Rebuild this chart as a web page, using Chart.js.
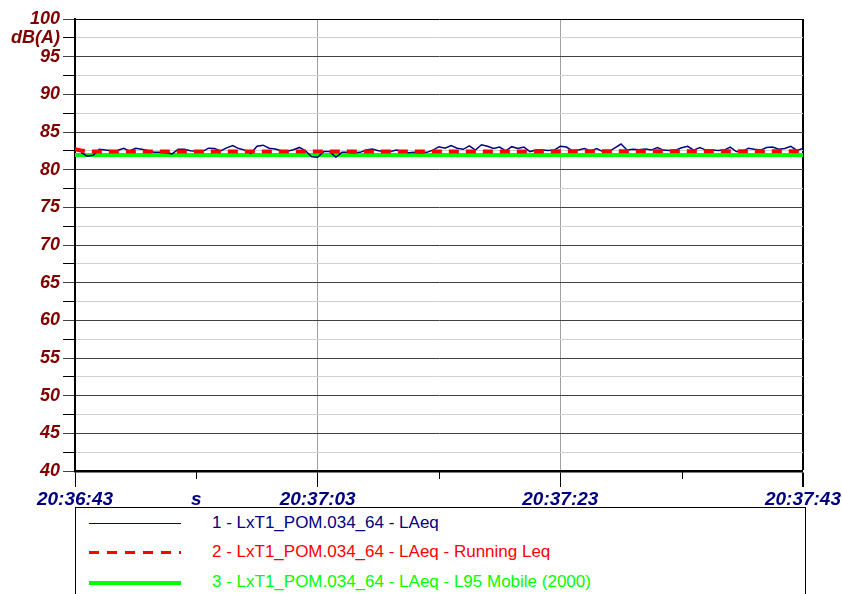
<!DOCTYPE html>
<html>
<head>
<meta charset="utf-8">
<script src="https://cdn.jsdelivr.net/npm/chart.js@4.4.1/dist/chart.umd.min.js"></script>
<style>
  body { margin: 0; background: #fff; }
  #wrap { position: relative; width: 842px; height: 594px; overflow: hidden; }
  #legend {
    position: absolute; left: 75px; top: 507px; width: 729px; height: 110px;
    border: 1.5px solid #000; font-family: "Liberation Sans", Arial, sans-serif; font-size: 17px;
  }
  .row { position: absolute; left: 0; height: 20px; width: 100%; }
  .sample { position: absolute; left: 13px; width: 92px; }
  .txt { position: absolute; left: 136px; top: 0; line-height: 20px; white-space: nowrap; }
</style>
</head>
<body>
<div id="wrap">
  <canvas id="chart" width="842" height="505"></canvas>
  <div id="legend"></div>
</div>
<script>
// seconds from 20:36:43
const times = [0, 0.5, 1, 1.5, 2, 2.5, 3, 3.5, 4, 4.5, 5, 5.5, 6, 6.5, 7, 7.5, 8, 8.5, 9, 9.5,
  10, 10.5, 11, 11.5, 12, 12.5, 13, 13.5, 14, 14.5, 15, 15.5, 16, 16.5, 17, 17.5, 18, 18.5, 19, 19.5,
  20, 20.5, 21, 21.5, 22, 22.5, 23, 23.5, 24, 24.5, 25, 25.5, 26, 26.5, 27, 27.5, 28, 28.5, 29, 29.5,
  30, 30.5, 31, 31.5, 32, 32.5, 33, 33.5, 34, 34.5, 35, 35.5, 36, 36.5, 37, 37.5, 38, 38.5, 39, 39.5,
  40, 40.5, 41, 41.5, 42, 42.5, 43, 43.5, 44, 44.5, 45, 45.5, 46, 46.5, 47, 47.5, 48, 48.5, 49, 49.5,
  50, 50.5, 51, 51.5, 52, 52.5, 53, 53.5, 54, 54.5, 55, 55.5, 56, 56.5, 57, 57.5, 58, 58.5, 59, 59.5, 60];

const laeq = [null, 82.3, 81.8, 81.9, 82.7, 82.6, 82.5, 82.55, 82.85, 82.5, 82.85, 82.7, 82.55, 82.3, 82.3, 82.25, 82.1, 82.7, 82.7, 82.5,
  82.45, 82.4, 82.85, 82.8, 82.5, 82.9, 83.2, 82.8, 82.6, 82.15, 83.1, 83.25, 82.85, 82.75, 82.5, 82.45, 82.65, 82.95, 82.5, 81.7,
  81.65, 82.4, 82.4, 81.65, 82.3, 82.3, 82.25, 82.3, 82.6, 82.75, 82.5, 82.4, 82.4, 82.6, 82.4, 82.25, 82.3, 82.25, 82.3, 82.6,
  83.05, 82.85, 83.2, 82.85, 82.7, 83.15, 82.6, 83.3, 83.1, 82.8, 83.0, 82.5, 83.05, 82.8, 83.0, 82.4, 82.6, 82.6, 82.55, 82.6,
  83.1, 83.0, 82.5, 82.6, 82.8, 82.5, 82.8, 82.4, 82.4, 82.9, 83.4, 82.6, 82.7, 82.65, 82.75, 82.6, 82.95, 82.6, 82.55, 82.6,
  82.9, 83.1, 82.6, 82.95, 82.6, 82.6, 82.55, 82.6, 83.0, 82.4, 82.4, 82.85, 82.7, 82.6, 82.95, 83.0, 82.7, 82.8, 83.1, 82.55, 82.8];

const runningLeq = [82.7, 82.55, 82.45, 82.4, 82.4, 82.4, 82.4, 82.4, 82.4, 82.4, 82.4, 82.4, 82.4, 82.4, 82.4, 82.4, 82.4, 82.4, 82.4, 82.4,
  82.4, 82.4, 82.4, 82.4, 82.4, 82.4, 82.4, 82.4, 82.4, 82.4, 82.4, 82.4, 82.4, 82.4, 82.4, 82.4, 82.4, 82.4, 82.4, 82.4,
  82.4, 82.4, 82.4, 82.4, 82.4, 82.4, 82.4, 82.4, 82.4, 82.4, 82.4, 82.4, 82.4, 82.4, 82.4, 82.4, 82.4, 82.4, 82.4, 82.4,
  82.4, 82.4, 82.4, 82.4, 82.4, 82.4, 82.4, 82.4, 82.4, 82.4, 82.4, 82.4, 82.4, 82.4, 82.4, 82.4, 82.4, 82.4, 82.4, 82.4,
  82.45, 82.45, 82.45, 82.45, 82.45, 82.45, 82.45, 82.45, 82.45, 82.45, 82.45, 82.45, 82.45, 82.45, 82.45, 82.45, 82.45, 82.45, 82.45, 82.45,
  82.45, 82.45, 82.45, 82.45, 82.45, 82.45, 82.45, 82.45, 82.45, 82.45, 82.45, 82.45, 82.45, 82.45, 82.45, 82.45, 82.45, 82.45, 82.45, 82.45, 82.45];

const l95 = [81.95, 81.95, 81.95, 81.95, 81.95, 81.95, 81.95, 81.95, 81.95, 81.95, 81.95, 81.95, 81.95, 81.95, 81.95, 81.95, 81.95, 81.95, 81.95, 81.95,
  81.95, 81.95, 81.95, 81.95, 81.95, 81.95, 81.95, 81.95, 81.95, 81.95, 81.95, 81.95, 81.95, 81.95, 81.95, 81.95, 81.95, 81.95, 81.95, 81.95,
  81.95, 81.95, 81.95, 81.95, 81.95, 81.95, 81.95, 81.95, 81.95, 81.95, 81.95, 81.95, 81.95, 81.95, 81.95, 81.95, 81.95, 81.95, 81.95, 81.95,
  81.95, 81.95, 81.95, 81.95, 81.95, 81.95, 81.95, 81.95, 81.95, 81.95, 81.95, 81.95, 81.95, 81.95, 81.95, 81.95, 81.95, 81.95, 81.95, 81.95,
  81.95, 81.95, 81.95, 81.95, 81.95, 81.95, 81.95, 81.95, 81.95, 81.95, 81.95, 81.95, 81.95, 81.95, 81.95, 81.95, 81.95, 81.95, 81.95, 81.95,
  81.95, 81.95, 81.95, 81.95, 81.95, 81.95, 81.95, 81.95, 81.95, 81.95, 81.95, 81.95, 81.95, 81.95, 81.95, 81.95, 81.95, 81.95, 81.95, 81.95, 81.95];

const xTickLabels = { 0: "20:36:43", 10: "s", 20: "20:37:03", 40: "20:37:23", 60: "20:37:43" };
const seriesNames = [
  "1 - LxT1_POM.034_64 - LAeq",
  "2 - LxT1_POM.034_64 - LAeq - Running Leq",
  "3 - LxT1_POM.034_64 - LAeq - L95 Mobile (2000)"
];

function pts(ys) {
  return times.map((t, i) => ({ x: t, y: ys[i] }));
}

// short tick marks for the unlabelled 10 s steps
const minorTicks = {
  id: "minorTicks",
  afterDraw(chart) {
    const x = chart.scales.x, c = chart.ctx;
    c.save();
    c.strokeStyle = "#000";
    c.lineWidth = 1;
    [10, 30, 50].forEach(v => {
      const px = Math.round(x.getPixelForValue(v)) + 0.5;
      c.beginPath();
      c.moveTo(px, x.top);
      c.lineTo(px, x.top + 8);
      c.stroke();
    });
    c.restore();
  }
};

const ctx = document.getElementById("chart").getContext("2d");
const chart = new Chart(ctx, {
  type: "line",
  data: {
    datasets: [
      {
        label: seriesNames[1],
        data: pts(runningLeq),
        borderColor: "#ff0000",
        borderWidth: 4,
        borderDash: [10, 7],
        order: 0,
      },
      {
        label: seriesNames[0],
        data: pts(laeq),
        borderColor: "#000080",
        borderWidth: 1.5,
        order: 1,
      },
      {
        label: seriesNames[2],
        data: pts(l95),
        borderColor: "#00ff00",
        borderWidth: 4,
        order: 2,
      },
    ],
  },
  options: {
    responsive: false,
    animation: false,
    layout: {
      autoPadding: false,
      padding: { top: 19, right: 34, left: 0, bottom: 0 },
    },
    plugins: {
      legend: { display: false },
      tooltip: { enabled: false },
    },
    elements: {
      point: { radius: 0 },
      line: { tension: 0 },
    },
    scales: {
      x: {
        type: "linear",
        min: 0,
        max: 60,
        afterFit: s => { s.height = 34; },
        ticks: {
          stepSize: 10,
          autoSkip: false,
          maxRotation: 0,
          padding: 1,
          color: "#000080",
          font: { family: "Liberation Sans", size: 19, weight: "bold", style: "italic" },
          callback: v => xTickLabels[v] || "",
        },
        grid: {
          color: c => {
            const v = c.tick && c.tick.value;
            if (v === 0 || v === 60) return "#000";
            if (v === 20 || v === 40) return "#a0a0a0";
            return "rgba(0,0,0,0)";
          },
          lineWidth: c => (c.tick && c.tick.value === 60 ? 2 : 1),
          tickColor: c => (c.tick && c.tick.value % 20 === 0 ? "#000" : "rgba(0,0,0,0)"),
          tickLength: 16,
        },
        border: { color: "#000", width: 2.5 },
      },
      y: {
        min: 40,
        max: 100,
        afterFit: s => { s.width = 75; },
        ticks: {
          stepSize: 2.5,
          autoSkip: false,
          padding: 3,
          color: "#800000",
          font: { family: "Liberation Sans", size: 18, weight: "bold", style: "italic" },
          callback: v => (v === 97.5 ? "dB(A)" : (v % 5 === 0 ? v : "")),
        },
        grid: {
          color: c => {
            const v = c.tick && c.tick.value;
            if (v === 100 || v === 40) return "#000";
            return v % 5 === 0 ? "#404040" : "#d0d0d0";
          },
          tickColor: c => (c.tick && c.tick.value % 5 === 0 ? "#404040" : "#000"),
          tickLength: 12,
        },
        border: { color: "#000", width: 2 },
      },
    },
  },
  plugins: [minorTicks],
});

// legend box under the plot
const legendStyles = [
  { top: 5, css: "top:10px;height:0;border-top:1.5px solid #000080;", color: "#000080" },
  { top: 34, css: "top:9px;height:3px;background:repeating-linear-gradient(90deg,#ff0000 0 10px,transparent 10px 18px);", color: "#ff0000" },
  { top: 64, css: "top:9px;height:4px;background:#00ff00;", color: "#00ff00" },
];
const legend = document.getElementById("legend");
seriesNames.forEach((name, i) => {
  const st = legendStyles[i];
  const row = document.createElement("div");
  row.className = "row";
  row.style.top = st.top + "px";
  row.innerHTML = '<div class="sample" style="' + st.css + '"></div>' +
    '<div class="txt" style="color:' + st.color + '">' + name + "</div>";
  legend.appendChild(row);
});
</script>
</body>
</html>
